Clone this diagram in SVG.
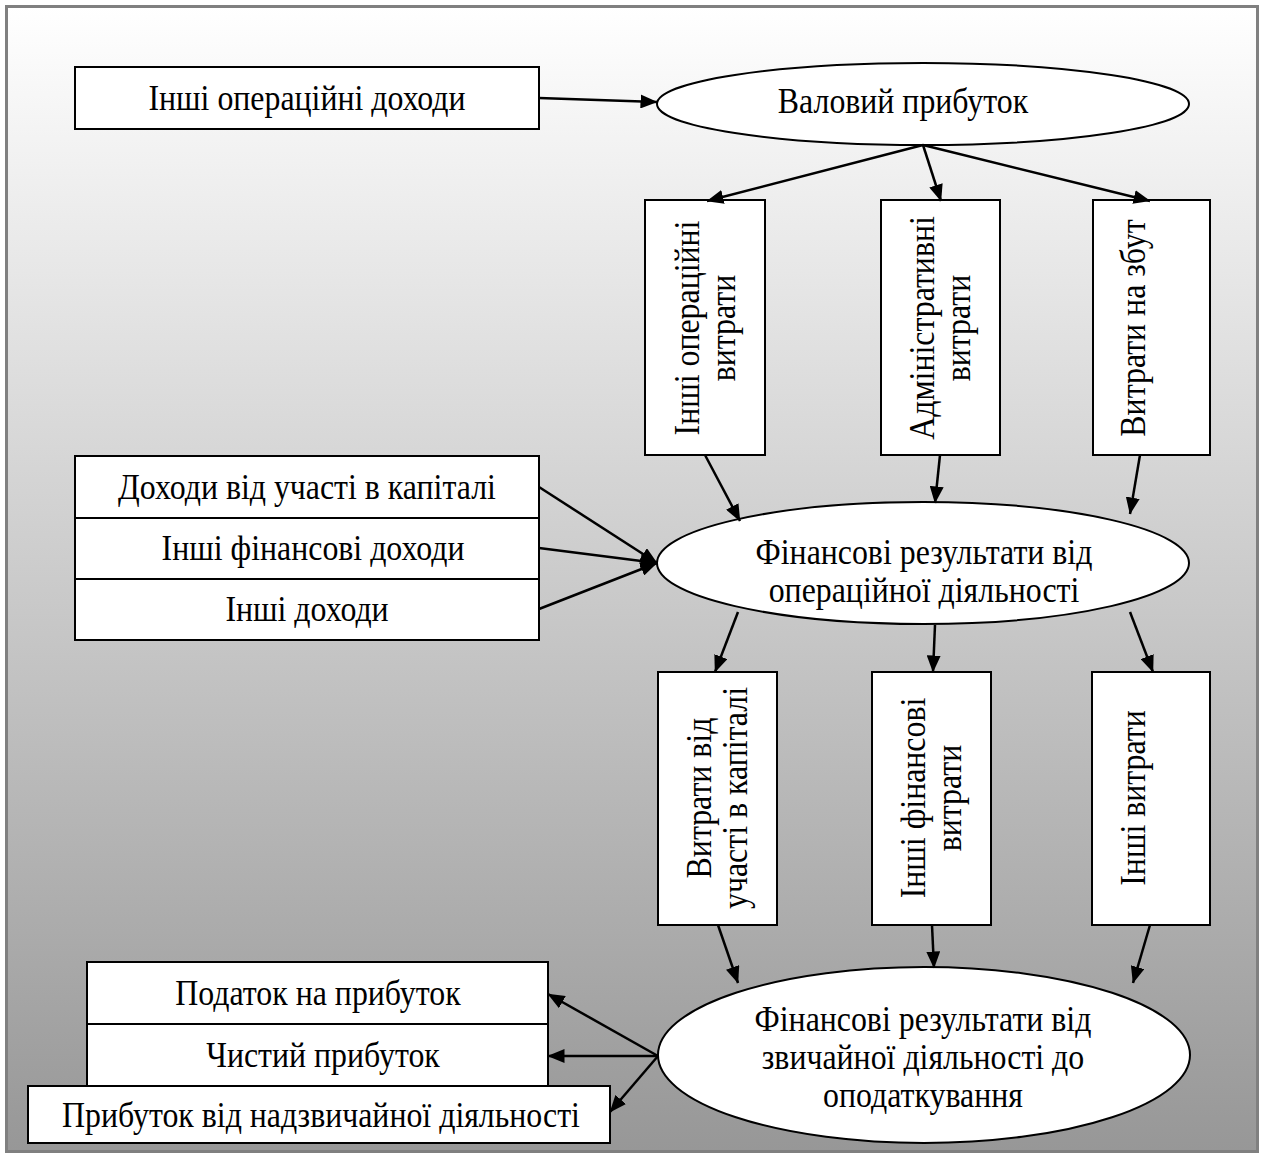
<svg xmlns="http://www.w3.org/2000/svg" width="1265" height="1155" viewBox="0 0 1265 1155">
<defs>
<linearGradient id="bg" x1="0" y1="0" x2="0" y2="1">
<stop offset="0" stop-color="#ffffff"/>
<stop offset="1" stop-color="#979797"/>
</linearGradient>
<marker id="ah" viewBox="0 0 17 14" refX="16.5" refY="7" markerWidth="17" markerHeight="14" markerUnits="userSpaceOnUse" orient="auto">
<path d="M0,0 L17,7 L0,14 Z" fill="#000"/>
</marker>
<style>
.box{fill:#fff;stroke:#000;stroke-width:2}
.ell{fill:#fff;stroke:#000;stroke-width:2}
.t{font-family:"Liberation Serif","Times New Roman",serif;font-size:35px;fill:#000;text-anchor:middle;dominant-baseline:central}
.c{fill:none;stroke:#000;stroke-width:2.5;marker-end:url(#ah)}
</style>
</defs>
<rect x="6.5" y="6.5" width="1251" height="1145" fill="url(#bg)" stroke="#808080" stroke-width="3"/>

<g id="n-inshi-oper-dokhody">
<rect class="box" x="75" y="67" width="464" height="62"/>
<g transform="translate(307,98) scale(0.91,1)"><text class="t" x="0" y="0">Інші операційні доходи</text></g>
</g>
<g id="n-valovyi">
<ellipse class="ell" cx="923" cy="104" rx="266" ry="41"/>
<g transform="translate(903,101) scale(0.91,1)"><text class="t" x="0" y="0">Валовий прибуток</text></g>
</g>
<g id="n-inshi-oper-vytraty">
<rect class="box" x="645" y="200" width="120" height="255"/>
<g transform="translate(705,328) rotate(-90) scale(0.91,1)">
<text class="t" x="0" y="-18">Інші операційні</text>
<text class="t" x="0" y="18">витрати</text>
</g>
</g>
<g id="n-admin">
<rect class="box" x="881" y="200" width="119" height="255"/>
<g transform="translate(940,328) rotate(-90) scale(0.91,1)">
<text class="t" x="0" y="-18">Адміністративні</text>
<text class="t" x="0" y="18">витрати</text>
</g>
</g>
<g id="n-zbut">
<rect class="box" x="1093" y="200" width="117" height="255"/>
<g transform="translate(1151,328) rotate(-90) scale(0.91,1)">
<text class="t" x="0" y="-18">Витрати на збут</text>
</g>
</g>
<g id="n-dokhody-uchasti">
<rect class="box" x="75" y="456" width="464" height="62"/>
<g transform="translate(307,487) scale(0.91,1)"><text class="t" x="0" y="0">Доходи від участі в капіталі</text></g>
</g>
<g id="n-inshi-fin-dokhody">
<rect class="box" x="75" y="518" width="464" height="61"/>
<g transform="translate(313,548) scale(0.91,1)"><text class="t" x="0" y="0">Інші фінансові доходи</text></g>
</g>
<g id="n-inshi-dokhody">
<rect class="box" x="75" y="579" width="464" height="61"/>
<g transform="translate(307,609) scale(0.91,1)"><text class="t" x="0" y="0">Інші доходи</text></g>
</g>
<g id="n-fin-oper">
<ellipse class="ell" cx="923" cy="563" rx="266" ry="61"/>
<g transform="translate(924,552) scale(0.91,1)"><text class="t" x="0" y="0">Фінансові результати від</text></g>
<g transform="translate(924,590) scale(0.91,1)"><text class="t" x="0" y="0">операційної діяльності</text></g>
</g>
<g id="n-vytraty-uchasti">
<rect class="box" x="658" y="672" width="119" height="253"/>
<g transform="translate(717,798) rotate(-90) scale(0.91,1)">
<text class="t" x="0" y="-18">Витрати від</text>
<text class="t" x="0" y="18">участі в капіталі</text>
</g>
</g>
<g id="n-inshi-fin-vytraty">
<rect class="box" x="872" y="672" width="119" height="253"/>
<g transform="translate(931,798) rotate(-90) scale(0.91,1)">
<text class="t" x="0" y="-18">Інші фінансові</text>
<text class="t" x="0" y="18">витрати</text>
</g>
</g>
<g id="n-inshi-vytraty">
<rect class="box" x="1092" y="672" width="118" height="253"/>
<g transform="translate(1151,798) rotate(-90) scale(0.91,1)">
<text class="t" x="0" y="-18">Інші витрати</text>
</g>
</g>
<g id="n-fin-zvych">
<ellipse class="ell" cx="924" cy="1055" rx="266" ry="88"/>
<g transform="translate(923,1019) scale(0.91,1)"><text class="t" x="0" y="0">Фінансові результати від</text></g>
<g transform="translate(923,1057) scale(0.91,1)"><text class="t" x="0" y="0">звичайної діяльності до</text></g>
<g transform="translate(923,1095) scale(0.91,1)"><text class="t" x="0" y="0">оподаткування</text></g>
</g>
<g id="n-podatok">
<rect class="box" x="87" y="962" width="461" height="62"/>
<g transform="translate(318,993) scale(0.91,1)"><text class="t" x="0" y="0">Податок на прибуток</text></g>
</g>
<g id="n-chystyi">
<rect class="box" x="87" y="1024" width="461" height="62"/>
<g transform="translate(323,1055) scale(0.91,1)"><text class="t" x="0" y="0">Чистий прибуток</text></g>
</g>
<g id="n-nadzvych">
<rect class="box" x="28" y="1086" width="582" height="57"/>
<g transform="translate(321,1115) scale(0.91,1)"><text class="t" x="0" y="0">Прибуток від надзвичайної діяльності</text></g>
</g>

<g id="connectors">
<line class="c" x1="539" y1="98" x2="657" y2="102"/>
<line class="c" x1="923" y1="145" x2="707" y2="201"/>
<line class="c" x1="923" y1="145" x2="941" y2="201"/>
<line class="c" x1="923" y1="145" x2="1150" y2="201"/>
<line class="c" x1="705" y1="455" x2="740" y2="521"/>
<line class="c" x1="940" y1="455" x2="935" y2="503"/>
<line class="c" x1="1140" y1="455" x2="1130" y2="514"/>
<line class="c" x1="539" y1="487" x2="657" y2="563"/>
<line class="c" x1="539" y1="548" x2="657" y2="563"/>
<line class="c" x1="539" y1="609" x2="657" y2="563"/>
<line class="c" x1="738" y1="612" x2="715" y2="672"/>
<line class="c" x1="935" y1="625" x2="933" y2="672"/>
<line class="c" x1="1130" y1="612" x2="1153" y2="672"/>
<line class="c" x1="718" y1="925" x2="738" y2="983"/>
<line class="c" x1="932" y1="925" x2="934" y2="968"/>
<line class="c" x1="1150" y1="925" x2="1133" y2="983"/>
<line class="c" x1="658" y1="1056" x2="548" y2="994"/>
<line class="c" x1="658" y1="1056" x2="548" y2="1056"/>
<line class="c" x1="658" y1="1056" x2="610" y2="1112"/>
</g>
</svg>
